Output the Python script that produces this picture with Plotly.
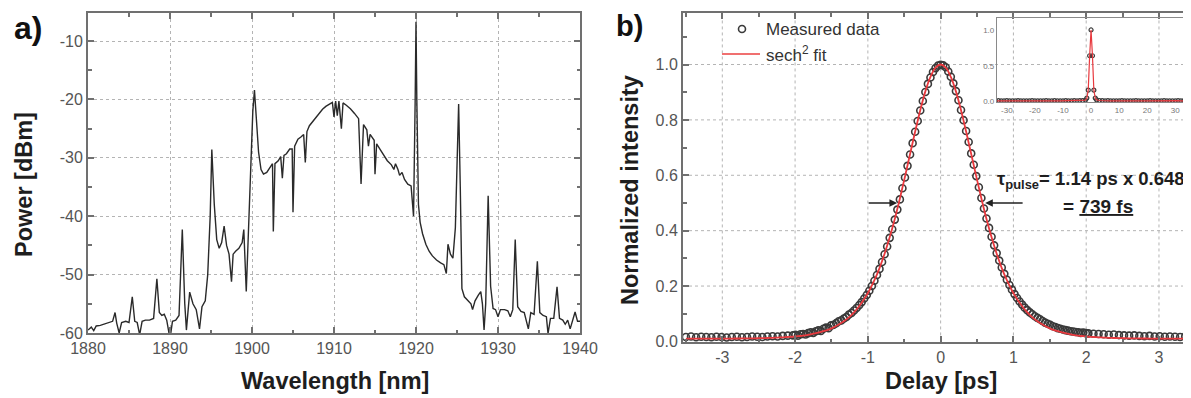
import plotly.graph_objects as go

# ---------------- data: panel a (optical spectrum) ----------------
wavelength_nm = [
    1880.0, 1880.4, 1880.7, 1881.0, 1881.5, 1882.0, 1882.5, 1883.0, 1883.3, 1883.5,
    1883.8, 1884.1, 1884.6, 1885.0, 1885.4, 1885.7, 1886.0, 1886.3, 1886.6, 1887.0,
    1887.5, 1888.0, 1888.4, 1888.7, 1889.0, 1889.3, 1889.6, 1890.0, 1890.3, 1890.7,
    1891.1, 1891.5, 1891.8, 1892.0, 1892.4, 1892.8, 1893.2, 1893.6, 1893.9, 1894.3,
    1894.6, 1894.9, 1895.1, 1895.4, 1895.7, 1896.0, 1896.3, 1896.6, 1896.9, 1897.2,
    1897.5, 1897.7, 1898.0, 1898.4, 1898.8, 1899.0, 1899.3, 1899.6, 1899.9, 1900.1,
    1900.3, 1900.5, 1900.8, 1901.1, 1901.4, 1901.8, 1902.2, 1902.5, 1902.6, 1902.8,
    1903.2, 1903.5, 1903.7, 1903.9, 1904.2, 1904.6, 1904.9, 1905.0, 1905.2, 1905.6,
    1906.0, 1906.3, 1906.5, 1906.7, 1907.0, 1907.4, 1907.8, 1908.2, 1908.6, 1909.0,
    1909.4, 1909.8, 1910.0, 1910.2, 1910.4, 1910.6, 1910.9, 1911.1, 1911.5, 1912.0,
    1912.5, 1913.0, 1913.3, 1913.6, 1914.0, 1914.2, 1914.4, 1914.9, 1915.0, 1915.2,
    1915.6, 1916.0, 1916.5, 1917.0, 1917.3, 1917.5, 1917.8, 1918.0, 1918.3, 1918.6,
    1919.0, 1919.4, 1919.7, 1919.9, 1920.0, 1920.1, 1920.3, 1920.5, 1920.8, 1921.2,
    1921.6, 1922.0, 1922.5, 1923.0, 1923.4, 1923.7, 1923.9, 1924.2, 1924.5, 1924.8,
    1925.0, 1925.2, 1925.4, 1925.6, 1925.9, 1926.3, 1926.7, 1926.9, 1927.2, 1927.6,
    1927.9, 1928.1, 1928.3, 1928.5, 1928.8, 1929.1, 1929.4, 1929.7, 1930.0, 1930.3,
    1930.8, 1931.2, 1931.5, 1931.8, 1932.1, 1932.4, 1932.8, 1933.2, 1933.7, 1934.0,
    1934.4, 1934.8, 1935.1, 1935.5, 1935.9, 1936.1, 1936.4, 1936.8, 1937.2, 1937.5,
    1937.9, 1938.2, 1938.5, 1938.8, 1939.1, 1939.4, 1939.7, 1940.0,
]
power_dbm = [
    -59.5, -59.0, -59.6, -58.8, -58.7, -58.5, -58.3, -58.0, -56.5, -58.3,
    -60.0, -58.2, -58.0, -58.2, -53.8, -58.0, -58.2, -60.3, -58.0, -57.8,
    -57.8, -57.5, -50.7, -56.5, -57.0, -56.8, -57.8, -61.0, -58.0, -57.8,
    -57.0, -42.3, -55.0, -59.5, -53.0, -55.0, -56.0, -59.3, -55.5, -54.5,
    -50.0, -40.0, -28.6, -38.0, -44.0, -45.5, -44.5, -41.7, -45.0, -46.5,
    -51.2, -46.5, -46.0, -45.5, -44.5, -42.3, -52.9, -40.0, -30.0, -22.0,
    -18.4, -22.0, -29.0, -32.0, -32.8, -32.5, -31.5, -31.0, -42.6, -31.0,
    -30.5, -29.8, -33.5, -29.6, -29.3, -28.5, -28.5, -39.3, -28.0, -26.8,
    -26.4, -26.0, -30.8, -25.5, -24.5, -23.8, -23.0, -22.2, -21.7, -21.2,
    -20.8, -20.5, -23.0, -20.3, -22.8, -20.3, -25.0, -20.6, -21.0, -21.6,
    -22.4, -23.3, -34.5, -24.3, -25.2, -28.0, -26.0, -27.0, -32.8, -27.6,
    -28.5, -29.5, -30.5, -31.2, -32.0, -31.0, -32.0, -33.0, -32.5, -33.7,
    -34.5, -34.8, -40.0, -20.0, -6.7, -20.0, -38.0, -41.0, -43.0, -44.8,
    -46.0, -46.8, -47.5, -48.0, -48.3, -49.8, -44.8, -46.5, -47.2, -42.0,
    -30.0, -20.8, -35.0, -52.4, -53.8, -54.5, -55.0, -56.0, -54.5, -53.5,
    -52.9, -55.0, -59.5, -55.0, -36.5, -52.0, -55.8, -56.0, -57.2, -56.0,
    -56.0, -56.2, -57.2, -56.0, -44.0, -55.5, -56.3, -56.5, -59.3, -56.5,
    -56.8, -47.7, -56.5, -57.0, -57.2, -60.1, -57.5, -57.5, -52.1, -57.5,
    -57.8, -58.5, -57.8, -59.3, -58.0, -56.4, -58.0, -58.0,
]
wl_ticks = [1880, 1890, 1900, 1910, 1920, 1930, 1940]
wl_minor = [1885, 1895, 1905, 1915, 1925, 1935]
pw_ticks = [-60, -50, -40, -30, -20, -10]
pw_labels = ["-60", "-50", "-40", "-30", "-20", "-10"]
pw_minor = [-55, -45, -35, -25, -15, -5]

# ---------------- data: panel b (autocorrelation) ----------------
meas_delay = [
    -3.50, -3.43, -3.36, -3.29, -3.22, -3.15, -3.08, -3.01, -2.94, -2.87,
    -2.80, -2.73, -2.66, -2.59, -2.52, -2.45, -2.38, -2.31, -2.24, -2.17, -2.10,
    -2.030, -1.995, -1.960, -1.925, -1.890, -1.855, -1.820, -1.785, -1.750, -1.715,
    -1.680, -1.645, -1.610, -1.575, -1.540, -1.505, -1.470, -1.435, -1.400, -1.365,
    -1.330, -1.295, -1.260, -1.225, -1.190, -1.155, -1.120, -1.085, -1.050, -1.015,
    -0.980, -0.945, -0.910, -0.875, -0.840, -0.805, -0.770, -0.735, -0.700, -0.665,
    -0.630, -0.595, -0.560, -0.525, -0.490, -0.455, -0.420, -0.385, -0.350, -0.315,
    -0.280, -0.245, -0.210, -0.175, -0.140, -0.105, -0.070, -0.035, 0.000,
    0.035, 0.070, 0.105, 0.140, 0.175, 0.210, 0.245, 0.280, 0.315, 0.350,
    0.385, 0.420, 0.455, 0.490, 0.525, 0.560, 0.595, 0.630, 0.665, 0.700,
    0.735, 0.770, 0.805, 0.840, 0.875, 0.910, 0.945, 0.980, 1.015, 1.050,
    1.085, 1.120, 1.155, 1.190, 1.225, 1.260, 1.295, 1.330, 1.365, 1.400,
    1.435, 1.470, 1.505, 1.540, 1.575, 1.610, 1.645, 1.680, 1.715, 1.750,
    1.785, 1.820, 1.855, 1.890, 1.925, 1.960, 1.995, 2.030,
    2.10, 2.17, 2.24, 2.31, 2.38, 2.45, 2.52, 2.59, 2.66, 2.73,
    2.80, 2.87, 2.94, 3.01, 3.08, 3.15, 3.22, 3.29, 3.36, 3.43, 3.50,
]
meas_intensity = [
    0.016, 0.018, 0.015, 0.017, 0.016, 0.015, 0.017, 0.016, 0.014, 0.016,
    0.017, 0.015, 0.016, 0.018, 0.017, 0.016, 0.018, 0.019, 0.018, 0.020, 0.021,
    0.022, 0.024, 0.021, 0.026, 0.027, 0.025, 0.030, 0.033, 0.031, 0.037,
    0.040, 0.038, 0.046, 0.050, 0.048, 0.058, 0.060, 0.066, 0.073, 0.076,
    0.083, 0.088, 0.097, 0.103, 0.112, 0.121, 0.131, 0.142, 0.155, 0.168,
    0.183, 0.200, 0.219, 0.240, 0.262, 0.287, 0.315, 0.343, 0.374, 0.405,
    0.440, 0.476, 0.513, 0.553, 0.592, 0.634, 0.675, 0.716, 0.757, 0.796,
    0.834, 0.868, 0.901, 0.930, 0.953, 0.973, 0.987, 0.996, 0.999,
    0.997, 0.990, 0.975, 0.956, 0.932, 0.904, 0.871, 0.836, 0.799, 0.760,
    0.720, 0.679, 0.638, 0.597, 0.557, 0.518, 0.480, 0.444, 0.410, 0.378,
    0.347, 0.319, 0.292, 0.267, 0.244, 0.223, 0.204, 0.187, 0.171, 0.157,
    0.144, 0.133, 0.122, 0.113, 0.105, 0.098, 0.091, 0.085, 0.080, 0.074,
    0.068, 0.064, 0.060, 0.055, 0.052, 0.048, 0.046, 0.043, 0.041, 0.039,
    0.037, 0.036, 0.034, 0.033, 0.031, 0.032, 0.030, 0.029,
    0.028, 0.027, 0.026, 0.024, 0.025, 0.023, 0.022, 0.021, 0.022, 0.020,
    0.019, 0.020, 0.018, 0.019, 0.017, 0.018, 0.017, 0.016, 0.018, 0.017, 0.016,
]
fit_delay = [
    -3.50, -3.43, -3.36, -3.29, -3.22, -3.15, -3.08, -3.01, -2.94, -2.87,
    -2.80, -2.73, -2.66, -2.59, -2.52, -2.45, -2.38, -2.31, -2.24, -2.17,
    -2.10, -2.03, -1.96, -1.89, -1.82, -1.75, -1.68, -1.61, -1.54, -1.47,
    -1.40, -1.33, -1.26, -1.19, -1.12, -1.05, -0.98, -0.91, -0.84, -0.77,
    -0.70, -0.63, -0.56, -0.49, -0.42, -0.35, -0.28, -0.21, -0.14, -0.07, 0.00,
    0.07, 0.14, 0.21, 0.28, 0.35, 0.42, 0.49, 0.56, 0.63, 0.70,
    0.77, 0.84, 0.91, 0.98, 1.05, 1.12, 1.19, 1.26, 1.33, 1.40,
    1.47, 1.54, 1.61, 1.68, 1.75, 1.82, 1.89, 1.96, 2.03, 2.10,
    2.17, 2.24, 2.31, 2.38, 2.45, 2.52, 2.59, 2.66, 2.73, 2.80,
    2.87, 2.94, 3.01, 3.08, 3.15, 3.22, 3.29, 3.36, 3.43, 3.50,
]
fit_intensity = [
    0.010, 0.010, 0.010, 0.010, 0.010, 0.010, 0.010, 0.010, 0.0105, 0.0105,
    0.0106, 0.0108, 0.011, 0.0113, 0.0116, 0.012, 0.0125, 0.013, 0.014, 0.015,
    0.016, 0.017, 0.019, 0.021, 0.024, 0.028, 0.032, 0.037, 0.043, 0.051,
    0.061, 0.073, 0.087, 0.105, 0.127, 0.153, 0.184, 0.221, 0.265, 0.317,
    0.376, 0.442, 0.516, 0.595, 0.677, 0.758, 0.835, 0.903, 0.955, 0.989, 1.000,
    0.989, 0.955, 0.903, 0.835, 0.758, 0.677, 0.595, 0.516, 0.442, 0.376,
    0.317, 0.265, 0.221, 0.184, 0.153, 0.127, 0.105, 0.087, 0.073, 0.061,
    0.051, 0.043, 0.037, 0.032, 0.028, 0.024, 0.021, 0.019, 0.017, 0.016,
    0.015, 0.014, 0.013, 0.0125, 0.012, 0.0116, 0.0113, 0.011, 0.0108, 0.0106,
    0.0105, 0.0105, 0.010, 0.010, 0.010, 0.010, 0.010, 0.010, 0.010, 0.010,
]
delay_ticks = [-3, -2, -1, 0, 1, 2, 3]
delay_labels = ["-3", "-2", "-1", "0", "1", "2", "3"]
delay_minor = [-3.5, -2.5, -1.5, -0.5, 0.5, 1.5, 2.5, 3.5]
int_ticks = [0.0, 0.2, 0.4, 0.6, 0.8, 1.0]
int_minor = [0.1, 0.3, 0.5, 0.7, 0.9, 1.1]
fwhm_ps = 1.14

# inset (long delay scan)
inset_delay = [
    -34, -33, -32, -31, -30, -29, -28, -27, -26, -25, -24, -23, -22, -21, -20,
    -19, -18, -17, -16, -15, -14, -13, -12, -11, -10, -9, -8, -7, -6, -5, -4,
    -3, -2, -1.5, -1, -0.5, 0, 0.5, 1, 1.5, 2, 3, 4, 5, 6, 7, 8, 9, 10, 11,
    12, 13, 14, 15, 16, 17, 18, 19, 20, 21, 22, 23, 24, 25, 26, 27, 28, 29,
    30, 31, 32, 33, 34, 35,
]
inset_intensity = [
    0.012, 0.013, 0.011, 0.012, 0.013, 0.012, 0.011, 0.012, 0.013, 0.012, 0.012, 0.011, 0.012, 0.013, 0.012,
    0.012, 0.011, 0.012, 0.013, 0.012, 0.012, 0.013, 0.012, 0.011, 0.012, 0.013, 0.012, 0.012, 0.013, 0.012, 0.013,
    0.014, 0.022, 0.050, 0.160, 0.640, 1.000, 0.640, 0.160, 0.050, 0.024, 0.016, 0.013, 0.012, 0.013, 0.012, 0.012, 0.011, 0.012, 0.013,
    0.012, 0.012, 0.011, 0.012, 0.013, 0.012, 0.012, 0.011, 0.012, 0.013, 0.012, 0.012, 0.011, 0.012, 0.013, 0.012, 0.012, 0.011,
    0.012, 0.013, 0.012, 0.012, 0.011, 0.012,
]
inset_xticks = [-30, -20, -10, 0, 10, 20, 30]
inset_xlabels = ["-30", "-20", "-10", "0", "10", "20", "30"]
inset_yticks = [0.0, 0.5, 1.0]

# ---------------- figure ----------------
# the page body adds an 8 px margin, so the figure is 8 px smaller and all
# screen positions below are converted with that offset
OFF = 8
W, H = 1191 - OFF, 398 - OFF
FONT = "Liberation Sans"
AX = "#707070"
TICKC = "#555555"
GRID = "#b4b4b4"
DARK = "#2a2a2a"
RED = "#e8393e"


def fx(p):
    return (p - OFF) / W


def fy(p):
    return 1 - (p - OFF) / H


fig = go.Figure()

fig.add_trace(go.Scatter(x=wavelength_nm, y=power_dbm, mode="lines",
                         line=dict(color=DARK, width=1.4), xaxis="x", yaxis="y",
                         showlegend=False))

fig.add_trace(go.Scatter(x=meas_delay, y=meas_intensity, mode="markers",
                         marker=dict(symbol="circle-open", size=7, color="#3a3a3a",
                                     line=dict(width=1.6, color="#3a3a3a")),
                         xaxis="x2", yaxis="y2", showlegend=False, cliponaxis=False))
fig.add_trace(go.Scatter(x=fit_delay, y=fit_intensity, mode="lines",
                         line=dict(color=RED, width=1.8, shape="spline"),
                         xaxis="x2", yaxis="y2", showlegend=False))

fig.add_trace(go.Scatter(x=inset_delay, y=inset_intensity, mode="markers",
                         marker=dict(symbol="circle-open", size=4, color="#3a3a3a",
                                     line=dict(width=1.2, color="#3a3a3a")),
                         xaxis="x3", yaxis="y3", showlegend=False))
fig.add_trace(go.Scatter(x=inset_delay, y=inset_intensity, mode="lines",
                         line=dict(color=RED, width=1.2),
                         xaxis="x3", yaxis="y3", showlegend=False))

tickfont = dict(family=FONT, size=16, color=TICKC)

common = dict(showline=True, linecolor=AX, linewidth=2, ticks="inside",
              tickcolor=AX, tickwidth=1.5, ticklen=6, zeroline=False,
              tickfont=tickfont, automargin=False)

fig.update_layout(
    width=W, height=H,
    margin=dict(l=0, r=0, t=0, b=0, autoexpand=False),
    paper_bgcolor="white", plot_bgcolor="rgba(0,0,0,0)",
    showlegend=False,
    font=dict(family=FONT),
    xaxis=dict(domain=[fx(88), fx(580)], range=[1880, 1940], anchor="y",
               mirror="ticks", tickmode="array", tickvals=wl_ticks,
               showgrid=True, gridcolor=GRID, griddash="dot", gridwidth=1,
               minor=dict(tickmode="array", tickvals=wl_minor, ticks="inside",
                          ticklen=3.5, tickcolor=AX, showgrid=False),
               **common),
    yaxis=dict(domain=[fy(333), fy(13)], range=[-60, -5.2], anchor="x",
               mirror="ticks", tickmode="array", tickvals=pw_ticks, ticktext=pw_labels,
               showgrid=True, gridcolor=GRID, griddash="dot", gridwidth=1,
               minor=dict(tickmode="array", tickvals=pw_minor, ticks="inside",
                          ticklen=3.5, tickcolor=AX, showgrid=False),
               **common),
    xaxis2=dict(domain=[fx(683), 1.0], range=[-3.54, 3.44], anchor="y2",
                mirror="ticks", tickmode="array", tickvals=delay_ticks, ticktext=delay_labels,
                showgrid=False,
                minor=dict(tickmode="array", tickvals=delay_minor, ticks="inside",
                           ticklen=3.5, tickcolor=AX, showgrid=False),
                **common),
    yaxis2=dict(domain=[fy(342), fy(13)], range=[-0.002, 1.186], anchor="x2",
                mirror=False, tickmode="array", tickvals=int_ticks, tickformat=".1f",
                showgrid=False,
                minor=dict(tickmode="array", tickvals=int_minor, ticks="inside",
                           ticklen=3.5, tickcolor=AX, showgrid=False),
                **common),
    xaxis3=dict(domain=[fx(997), 1.0], range=[-33.5, 35.6], anchor="y3",
                showline=True, linecolor="#8a8a8a", linewidth=1.2, mirror=True,
                ticks="", tickmode="array", tickvals=inset_xticks, ticktext=inset_xlabels,
                tickfont=dict(family=FONT, size=8, color="#777777"),
                showgrid=False, zeroline=False, automargin=False),
    yaxis3=dict(domain=[fy(102), fy(18)], range=[-0.005, 1.167], anchor="x3",
                showline=True, linecolor="#8a8a8a", linewidth=1.2, mirror=False,
                ticks="", tickmode="array", tickvals=inset_yticks, tickformat=".1f",
                tickfont=dict(family=FONT, size=8, color="#777777"),
                showgrid=False, zeroline=False, automargin=False),
)

# panel b dotted grid (drawn as shapes so the inset can cover it)
shapes = []
for xv in delay_ticks:
    shapes.append(dict(type="line", xref="x2", yref="y2", x0=xv, x1=xv, y0=0, y1=1.186,
                       line=dict(color=GRID, width=1, dash="dot"), layer="below"))
for yv in int_ticks[1:]:
    shapes.append(dict(type="line", xref="x2", yref="y2", x0=-3.54, x1=3.44, y0=yv, y1=yv,
                       line=dict(color=GRID, width=1, dash="dot"), layer="below"))
# white background of inset
shapes.append(dict(type="rect", xref="paper", yref="paper", x0=fx(996), x1=1.0,
                   y0=fy(103), y1=fy(17), fillcolor="white", line=dict(width=0),
                   layer="below"))
# manual legend
shapes.append(dict(type="circle", xref="paper", yref="paper",
                   x0=fx(742 - 3.5), x1=fx(742 + 3.5), y0=fy(29 + 3.5), y1=fy(29 - 3.5),
                   line=dict(color="#3a3a3a", width=1.6)))
shapes.append(dict(type="line", xref="paper", yref="paper",
                   x0=fx(722), x1=fx(760), y0=fy(54), y1=fy(54),
                   line=dict(color="#f07070", width=2.2)))
fig.update_layout(shapes=shapes)

ann = []
title_font = dict(family=FONT, size=23.5, color="#1e1e1e")
ann.append(dict(text="<b>a)</b>", x=fx(12), y=fy(28), xref="paper", yref="paper",
                xanchor="left", yanchor="middle", showarrow=False,
                font=dict(family=FONT, size=32, color="#111111")))
ann.append(dict(text="<b>b)</b>", x=fx(615), y=fy(9), xref="paper", yref="paper",
                xanchor="left", yanchor="top", showarrow=False, borderpad=0,
                font=dict(family=FONT, size=29, color="#111111")))
ann.append(dict(text="<b>Wavelength [nm]</b>", x=fx(335), y=fy(381), xref="paper", yref="paper",
                xanchor="center", yanchor="middle", showarrow=False, font=title_font))
ann.append(dict(text="<b>Power [dBm]</b>", x=fx(24), y=fy(185), xref="paper", yref="paper",
                xanchor="center", yanchor="middle", showarrow=False, textangle=-90,
                font=title_font))
ann.append(dict(text="<b>Delay [ps]</b>", x=fx(941), y=fy(381), xref="paper", yref="paper",
                xanchor="center", yanchor="middle", showarrow=False, font=title_font))
ann.append(dict(text="<b>Normalized intensity</b>", x=fx(630), y=fy(190), xref="paper", yref="paper",
                xanchor="center", yanchor="middle", showarrow=False, textangle=-90,
                font=title_font))
ann.append(dict(text="Measured data", x=fx(764), y=fy(29), xref="paper", yref="paper",
                xanchor="left", yanchor="middle", showarrow=False,
                font=dict(family=FONT, size=17, color="#333333")))
ann.append(dict(text="sech<sup>2</sup> fit", x=fx(764), y=fy(54), xref="paper", yref="paper",
                xanchor="left", yanchor="middle", showarrow=False,
                font=dict(family=FONT, size=17, color="#333333")))
ann.append(dict(text="<b>τ<sub>pulse</sub>= 1.14 ps x 0.648</b>", x=fx(995), y=fy(180),
                xref="paper", yref="paper", xanchor="left", yanchor="middle", showarrow=False,
                font=dict(family=FONT, size=18.5, color="#1e1e1e")))
ann.append(dict(text="<b>= <u>739 fs</u></b>", x=fx(1061), y=fy(206),
                xref="paper", yref="paper", xanchor="left", yanchor="middle", showarrow=False,
                font=dict(family=FONT, size=19, color="#1e1e1e")))
# FWHM arrows
ann.append(dict(text="", x=-fwhm_ps / 2, y=0.5, xref="x2", yref="y2", ax=-32, ay=0,
                showarrow=True, arrowhead=2, arrowsize=1.1, arrowwidth=1.4,
                arrowcolor="#222222", standoff=2))
ann.append(dict(text="", x=fwhm_ps / 2, y=0.5, xref="x2", yref="y2", ax=42, ay=0,
                showarrow=True, arrowhead=2, arrowsize=1.1, arrowwidth=1.4,
                arrowcolor="#222222", standoff=3))
fig.update_layout(annotations=ann)

fig.write_html("out.html")
